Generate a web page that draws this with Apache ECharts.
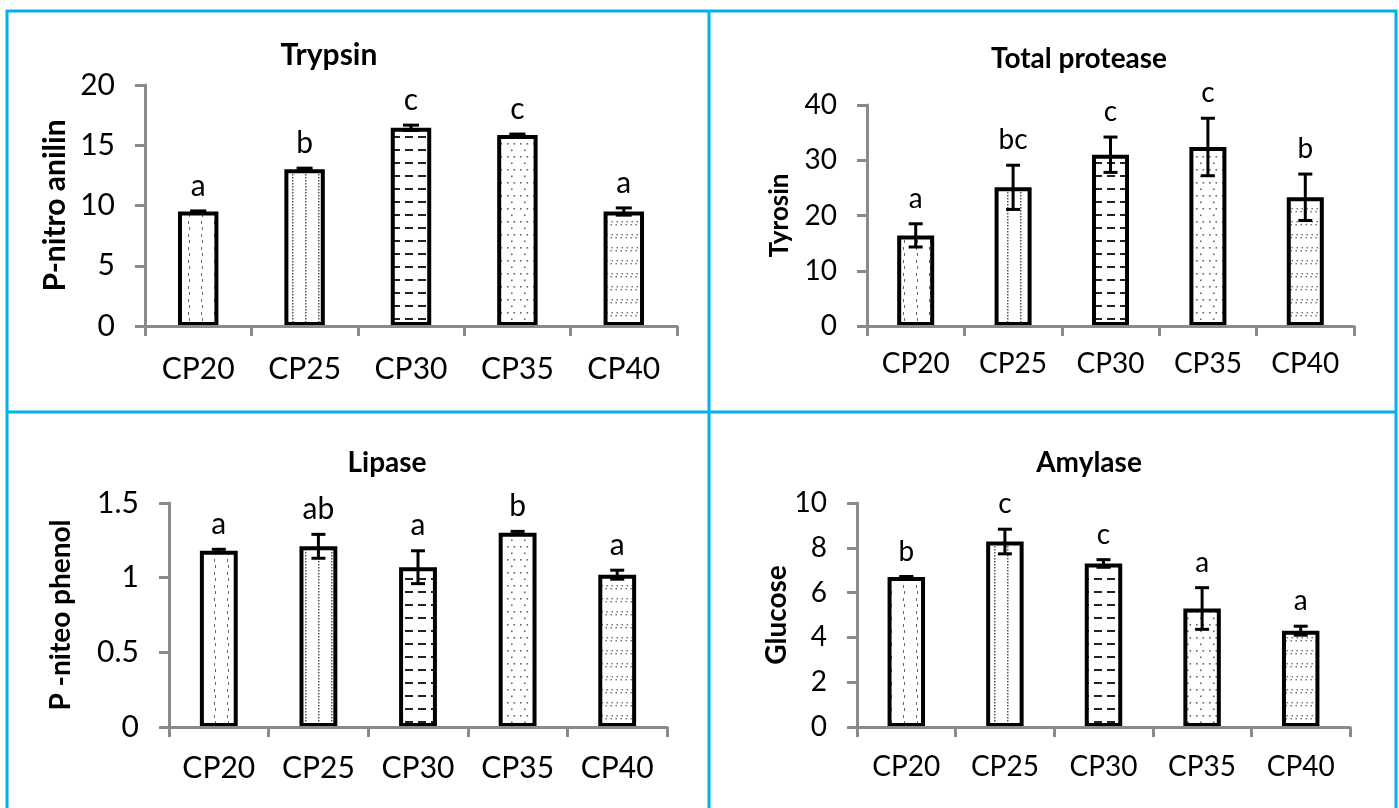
<!DOCTYPE html>
<html>
<head>
<meta charset="utf-8">
<script src="https://cdn.jsdelivr.net/npm/echarts@6/dist/echarts.min.js"></script>
<style>
html,body{margin:0;padding:0;background:#fff;}
#chart{width:1399px;height:808px;}
</style>
</head>
<body>
<div id="chart"></div>
<script>
// ---------- data ----------
const categories = ['CP20', 'CP25', 'CP30', 'CP35', 'CP40'];

const trypsinMean = [9.5, 13.0, 16.45, 15.85, 9.5];
const trypsinErr = [0.05, 0.1, 0.22, 0.08, 0.3];
const trypsinLetters = ['a', 'b', 'c', 'c', 'a'];

const proteaseMean = [16.4, 25.1, 31.0, 32.4, 23.3];
const proteaseErr = [2.1, 4.0, 3.2, 5.2, 4.2];
const proteaseLetters = ['a', 'bc', 'c', 'c', 'b'];

const lipaseMean = [1.18, 1.21, 1.07, 1.30, 1.02];
const lipaseErr = [0.01, 0.08, 0.11, 0.01, 0.03];
const lipaseLetters = ['a', 'ab', 'a', 'b', 'a'];

const amylaseMean = [6.7, 8.28, 7.3, 5.29, 4.3];
const amylaseErr = [0.02, 0.55, 0.17, 0.93, 0.2];
const amylaseLetters = ['b', 'c', 'c', 'a', 'a'];

const panelTitles = ['Trypsin', 'Total protease', 'Lipase', 'Amylase'];
const yNames = ['P-nitro anilin', 'Tyrosin', 'P -niteo phenol', 'Glucose'];
const yMax = [20, 40, 1.5, 10];
const yStep = [5, 10, 0.5, 2];

// ---------- patterns ----------
function makePattern(w, h, draw) {
  const c = document.createElement('canvas');
  c.width = w; c.height = h;
  const ctx = c.getContext('2d');
  ctx.fillStyle = '#ffffff';
  ctx.fillRect(0, 0, w, h);
  draw(ctx);
  return { image: c, repeat: 'repeat' };
}
const patterns = [
  // CP20: sparse dashed vertical lines
  makePattern(13, 13, ctx => {
    ctx.fillStyle = '#666';
    ctx.fillRect(6, 0, 1, 3);
    ctx.fillRect(7, 6, 1, 3);
  }),
  // CP25: dense dotted vertical lines
  makePattern(13, 3, ctx => {
    ctx.fillStyle = '#555';
    ctx.fillRect(6, 0, 1.5, 1.5);
  }),
  // CP30: horizontal dashes
  makePattern(13, 13, ctx => {
    ctx.fillStyle = '#222';
    ctx.fillRect(2, 6, 8, 2);
  }),
  // CP35: staggered dots
  makePattern(13, 13, ctx => {
    ctx.fillStyle = '#666';
    ctx.fillRect(0, 0, 1.6, 1.6);
    ctx.fillRect(6.5, 0, 1.6, 1.6);
    ctx.fillRect(4, 6.5, 1.6, 1.6);
  }),
  // CP40: paired dots in rows
  makePattern(5, 13, ctx => {
    ctx.fillStyle = '#666';
    ctx.fillRect(1.5, 0, 1.4, 1.4);
    ctx.fillRect(0.5, 3, 1.4, 1.4);
  })
];

// ---------- layout ----------
const grids = [
  { left: 145, top: 85, right: 722, bottom: 482 },
  { left: 867, top: 105, right: 45, bottom: 482 },
  { left: 169, top: 503, right: 732, bottom: 81 },
  { left: 857, top: 503, right: 49, bottom: 81 }
];
const tickFont = [30, 28, 30, 28];
const nameFont = [30, 26, 28, 28];
const titleFont = [30, 28, 28, 28];
const nameGaps = [75, 74, 94, 63];
const xMargins = [28, 24, 26, 26];
const titlePos = [[329, 40], [1079, 45], [387, 449], [1089, 449]];
const capHalf = [8, 7, 7, 7];

const means = [trypsinMean, proteaseMean, lipaseMean, amylaseMean];
const errs = [trypsinErr, proteaseErr, lipaseErr, amylaseErr];
const letters = [trypsinLetters, proteaseLetters, lipaseLetters, amylaseLetters];

const FONT = 'Lato, "Open Sans", sans-serif';
const AX = '#8a8a8a';

const option = {
  backgroundColor: '#ffffff',
  animation: false,
  title: panelTitles.map((t, i) => ({
    text: t,
    left: titlePos[i][0],
    top: titlePos[i][1],
    textAlign: 'center',
    padding: 0,
    textStyle: { fontFamily: FONT, fontWeight: 'bold', fontSize: titleFont[i], lineHeight: titleFont[i], color: '#000' }
  })),
  grid: grids.map(g => Object.assign({ containLabel: false }, g)),
  xAxis: grids.map((g, i) => ({
    type: 'category',
    gridIndex: i,
    data: categories,
    z: 10,
    axisLine: { show: true, lineStyle: { color: AX, width: 3 } },
    axisTick: { show: true, length: 10, lineStyle: { color: AX, width: 3 }, alignWithLabel: false },
    axisLabel: { fontFamily: FONT, fontSize: tickFont[i], color: '#000', margin: xMargins[i], lineHeight: tickFont[i] },
    splitLine: { show: false }
  })),
  yAxis: grids.map((g, i) => ({
    type: 'value',
    gridIndex: i,
    min: 0,
    max: yMax[i],
    interval: yStep[i],
    name: yNames[i],
    nameLocation: 'middle',
    nameGap: nameGaps[i],
    nameTextStyle: { fontFamily: FONT, fontWeight: 'bold', fontSize: nameFont[i], lineHeight: nameFont[i], color: '#000' },
    axisLine: { show: true, lineStyle: { color: AX, width: 3 } },
    axisTick: { show: true, length: 10, lineStyle: { color: AX, width: 3 } },
    axisLabel: { fontFamily: FONT, fontSize: tickFont[i], color: '#000', margin: 30 },
    splitLine: { show: false }
  })),
  series: [],
  graphic: [
    { type: 'rect', shape: { x: 7, y: 11, width: 1389, height: 802 }, style: { fill: 'none', stroke: '#00B0F0', lineWidth: 3 }, silent: true },
    { type: 'line', shape: { x1: 709, y1: 11, x2: 709, y2: 812 }, style: { stroke: '#00B0F0', lineWidth: 3 }, silent: true },
    { type: 'line', shape: { x1: 7, y1: 412, x2: 1396, y2: 412 }, style: { stroke: '#00B0F0', lineWidth: 3 }, silent: true }
  ]
};

means.forEach((m, i) => {
  option.series.push({
    type: 'bar',
    xAxisIndex: i,
    yAxisIndex: i,
    barWidth: '38%',
    z: 2,
    data: m.map((v, k) => ({
      value: v,
      itemStyle: { color: patterns[k], borderColor: '#000', borderWidth: 4 }
    }))
  });
  option.series.push({
    type: 'custom',
    xAxisIndex: i,
    yAxisIndex: i,
    z: 12,
    data: m.map((v, k) => [k, v, errs[i][k]]),
    renderItem: function (params, api) {
      const k = params.dataIndex;
      const x = api.value(0), v = api.value(1), e = api.value(2);
      const top = api.coord([x, v + e]);
      const bot = api.coord([x, v - e]);
      const hw = capHalf[i];
      const ls = { stroke: '#000', lineWidth: 3 };
      return {
        type: 'group',
        children: [
          { type: 'line', shape: { x1: top[0], y1: top[1], x2: bot[0], y2: bot[1] }, style: ls },
          { type: 'line', shape: { x1: top[0] - hw, y1: top[1], x2: top[0] + hw, y2: top[1] }, style: ls },
          { type: 'line', shape: { x1: bot[0] - hw, y1: bot[1], x2: bot[0] + hw, y2: bot[1] }, style: ls },
          { type: 'text', x: top[0], y: top[1] - 25,
            style: { text: letters[i][k], fill: '#000', font: tickFont[i] + 'px ' + FONT, align: 'center', verticalAlign: 'middle' } }
        ]
      };
    }
  });
});

const chart = echarts.init(document.getElementById('chart'), null, { renderer: 'canvas' });
chart.setOption(option);
</script>
</body>
</html>
